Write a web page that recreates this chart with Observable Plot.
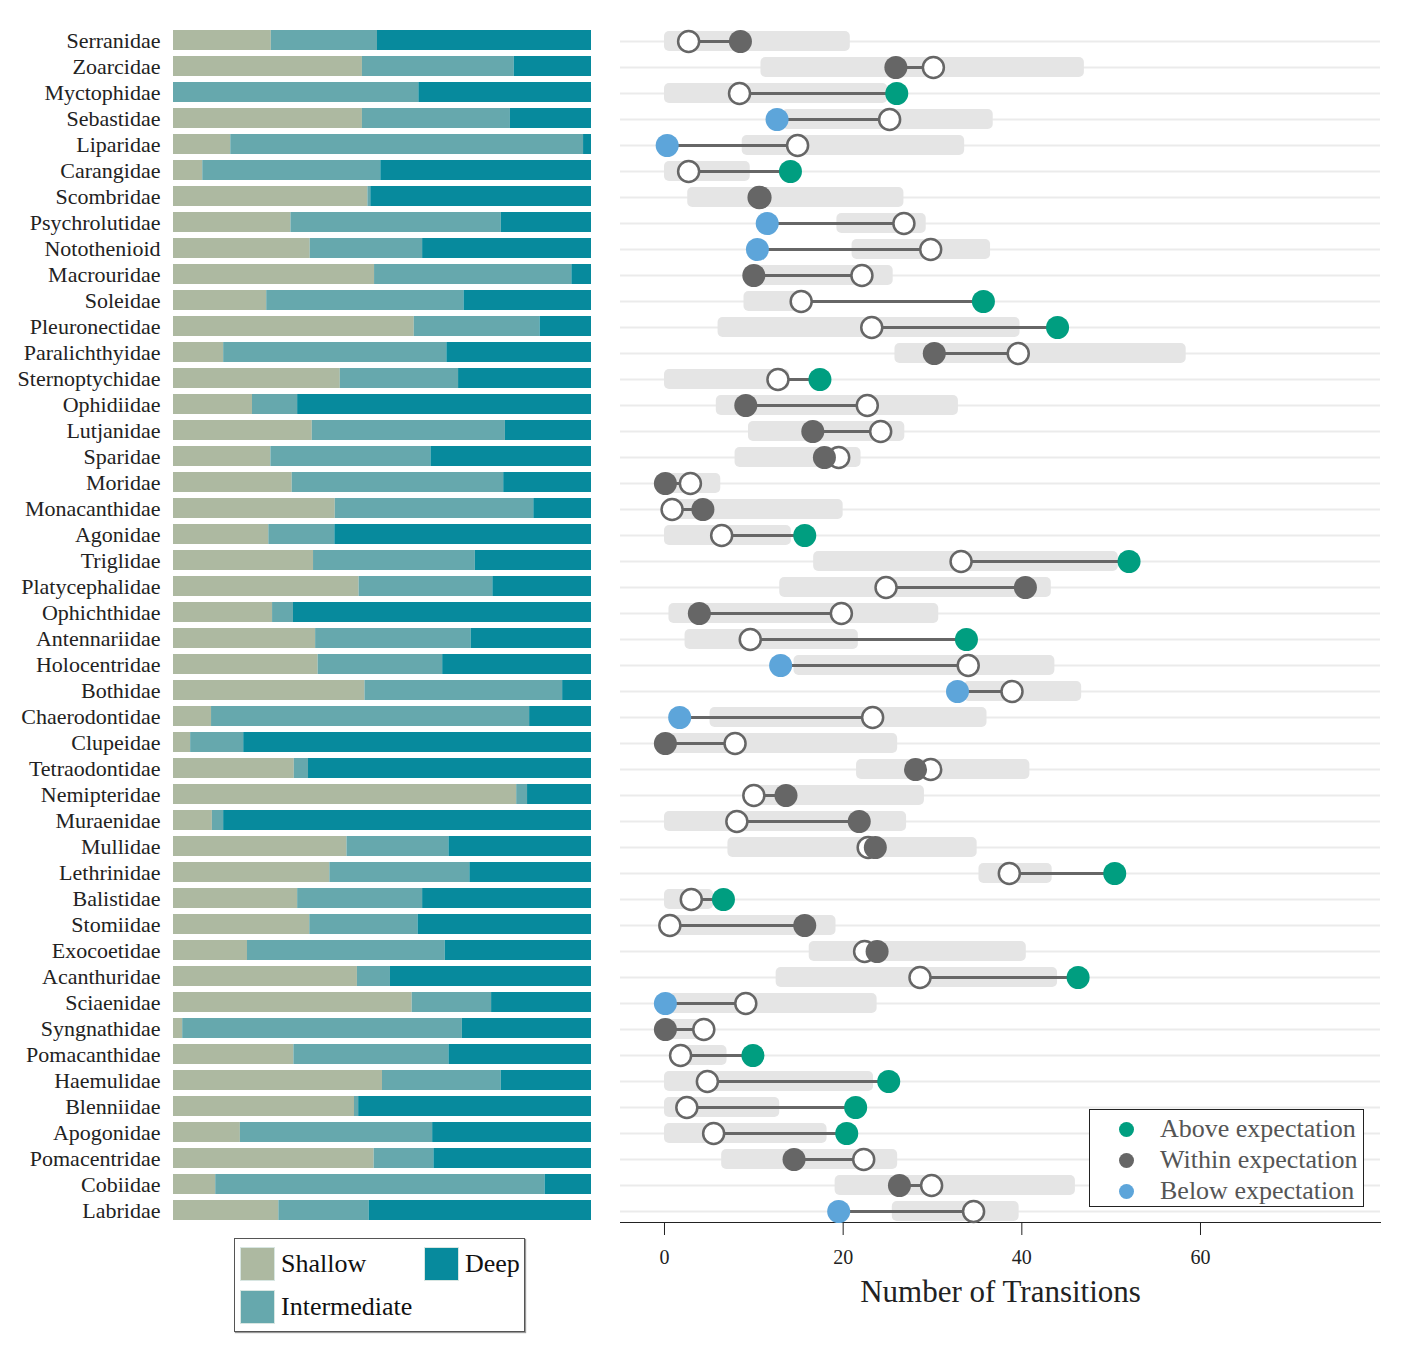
<!DOCTYPE html>
<html>
<head>
<meta charset="utf-8">
<script src="https://cdn.jsdelivr.net/npm/d3@7"></script>
<script src="https://cdn.jsdelivr.net/npm/@observablehq/plot@0.6"></script>
<style>
  html, body { margin: 0; padding: 0; background: #fff; }
  #root { position: relative; width: 1408px; height: 1360px; font-family: "Liberation Serif", "Times New Roman", serif; }
  #left, #right { position: absolute; top: 0; }
  #left { left: 0; }
  #right { left: 600px; }
  .legend { position: absolute; background: #fff; box-sizing: border-box; }
  #depthLegend { left: 234px; top: 1238px; width: 291px; height: 94px; border: 1.5px solid #555; box-shadow: 1px 1px 1px #999; }
  #statusLegend { left: 1089px; top: 1109px; width: 275px; height: 98px; border: 1.5px solid #222; }
  .item { position: absolute; display: flex; align-items: center; font-size: 26px; white-space: nowrap; }
  .sw { width: 35px; height: 34px; box-sizing: border-box; margin-right: 6px; }
  .dotk { width: 15px; height: 15px; border-radius: 50%; margin-right: 26px; }
</style>
</head>
<body>
<div id="root">
  <div id="left"></div>
  <div id="right"></div>
  <div id="depthLegend" class="legend"></div>
  <div id="statusLegend" class="legend"></div>
</div>
<script>
// ---------- DATA ----------
const families = ["Serranidae","Zoarcidae","Myctophidae","Sebastidae","Liparidae","Carangidae","Scombridae","Psychrolutidae","Notothenioid","Macrouridae","Soleidae","Pleuronectidae","Paralichthyidae","Sternoptychidae","Ophidiidae","Lutjanidae","Sparidae","Moridae","Monacanthidae","Agonidae","Triglidae","Platycephalidae","Ophichthidae","Antennariidae","Holocentridae","Bothidae","Chaerodontidae","Clupeidae","Tetraodontidae","Nemipteridae","Muraenidae","Mullidae","Lethrinidae","Balistidae","Stomiidae","Exocoetidae","Acanthuridae","Sciaenidae","Syngnathidae","Pomacanthidae","Haemulidae","Blenniidae","Apogonidae","Pomacentridae","Cobiidae","Labridae"];

// depth proportions (left panel)
const shallow      = [0.234,0.452,0.000,0.452,0.137,0.070,0.465,0.281,0.327,0.481,0.223,0.576,0.120,0.399,0.189,0.332,0.233,0.284,0.387,0.228,0.335,0.444,0.237,0.340,0.346,0.458,0.091,0.041,0.289,0.821,0.093,0.415,0.374,0.297,0.326,0.177,0.440,0.571,0.022,0.288,0.500,0.433,0.160,0.480,0.101,0.252];
const intermediate = [0.254,0.363,0.587,0.354,0.844,0.426,0.007,0.503,0.269,0.472,0.472,0.301,0.534,0.283,0.108,0.462,0.383,0.506,0.475,0.158,0.387,0.320,0.050,0.372,0.298,0.473,0.761,0.127,0.034,0.026,0.027,0.244,0.335,0.299,0.259,0.473,0.079,0.190,0.669,0.371,0.284,0.010,0.460,0.143,0.788,0.216];
const deep         = [0.512,0.185,0.413,0.194,0.019,0.504,0.528,0.216,0.404,0.047,0.305,0.123,0.346,0.318,0.703,0.206,0.384,0.210,0.138,0.614,0.278,0.236,0.713,0.288,0.356,0.069,0.148,0.832,0.677,0.153,0.880,0.341,0.291,0.404,0.415,0.350,0.481,0.239,0.309,0.341,0.216,0.557,0.380,0.377,0.111,0.532];

// transitions (right panel)
const rangeLow  = [0,10.8,0,13.2,8.7,0,2.6,19.3,21.0,9.8,8.9,6.0,25.8,0,5.8,9.4,7.9,0,0.3,0,16.7,12.9,0.5,2.3,14.5,33.5,5.1,0,21.5,9.8,0,7.1,35.2,0,0,16.2,12.5,0.5,0,1.3,0,0,0,6.4,19.1,25.5];
const rangeHigh = [20.8,47.0,25.0,36.8,33.6,9.6,26.8,29.3,36.5,25.6,16.5,39.8,58.4,14.0,32.9,26.9,22.0,6.3,20.0,14.2,50.8,43.3,30.7,21.7,43.7,46.7,36.1,26.1,40.9,29.1,27.1,35.0,43.4,5.5,19.2,40.5,44.0,23.8,5.0,7.0,23.4,12.9,18.2,26.1,46.0,39.7];
const expected  = [2.7,30.1,8.4,25.2,14.9,2.7,10.6,26.8,29.8,22.1,15.3,23.2,39.6,12.7,22.7,24.2,19.5,2.9,0.85,6.4,33.2,24.8,19.8,9.6,34.0,38.9,23.3,7.9,29.8,10.0,8.1,22.8,38.6,3.0,0.6,22.4,28.6,9.1,4.4,1.8,4.8,2.5,5.5,22.3,29.9,34.6];
const observed  = [8.5,25.9,26.0,12.6,0.3,14.1,10.7,11.5,10.4,10.0,35.7,44.0,30.2,17.4,9.1,16.6,17.9,0.1,4.3,15.7,52.0,40.4,3.9,33.8,13.0,32.8,1.7,0.1,28.1,13.6,21.8,23.6,50.4,6.6,15.7,23.8,46.3,0.1,0.1,9.9,25.1,21.4,20.4,14.5,26.3,19.5];
const status    = ["W","W","A","B","B","A","W","B","B","W","A","A","W","A","W","W","W","W","W","A","A","W","W","A","B","B","B","W","W","W","W","W","A","A","W","W","A","B","W","A","A","A","A","W","W","B"];

const depthCats   = ["Shallow","Intermediate","Deep"];
const depthColors = ["#adb9a1","#66a8ad","#078a9d"];
const statusCodes  = ["A","W","B"];
const statusLabels = ["Above expectation","Within expectation","Below expectation"];
const statusColors = ["#009e80","#666666","#5da5da"];
const xTicks = [0,20,40,60];

// ---------- TABLES ----------
const depthRows = [];
families.forEach((f, i) => {
  [shallow[i], intermediate[i], deep[i]].forEach((v, k) => depthRows.push({family: f, depth: depthCats[k], value: v}));
});
const transRows = families.map((f, i) => ({
  family: f, lo: rangeLow[i], hi: rangeHigh[i], exp: expected[i], obs: observed[i],
  status: statusLabels[statusCodes.indexOf(status[i])]
}));

const fontFamily = '"Liberation Serif", "Times New Roman", serif';

// ---------- LEFT PANEL ----------
const left = Plot.plot({
  width: 600, height: 1360,
  marginLeft: 173, marginRight: 9, marginTop: 17, marginBottom: 126,
  style: {fontFamily, fontSize: "22px", color: "#222", background: "transparent", overflow: "visible"},
  x: {domain: [0, 1], axis: null},
  y: {domain: families, paddingInner: 0.23, paddingOuter: 0.5, tickSize: 0, tickPadding: 13, label: null},
  color: {domain: depthCats, range: depthColors},
  marks: [
    Plot.barX(depthRows, Plot.stackX({x: "value", y: "family", fill: "depth", order: depthCats}))
  ]
});
document.getElementById("left").appendChild(left);

// ---------- RIGHT PANEL ----------
const right = Plot.plot({
  width: 808, height: 1360,
  marginLeft: 20, marginRight: 28, marginTop: 29, marginBottom: 138,
  style: {fontFamily, fontSize: "20px", color: "#222", background: "transparent", overflow: "visible"},
  x: {domain: [-4.925, 80.15], ticks: xTicks, tickSize: 13, tickPadding: 14, line: true, label: null, nice: false},
  y: {domain: families, axis: null, paddingInner: 0.231, paddingOuter: 0.038},
  color: {domain: statusLabels, range: statusColors},
  marks: [
    Plot.ruleY(families, {stroke: "#ebebeb", strokeWidth: 2}),
    Plot.barX(transRows, {x1: "lo", x2: "hi", y: "family", fill: "#e5e5e5", rx: 5}),
    Plot.link(transRows, {x1: "exp", x2: "obs", y1: "family", y2: "family", stroke: "#666", strokeWidth: 3}),
    Plot.dot(transRows, {x: "exp", y: "family", r: 10.5, fill: "white", stroke: "#666", strokeWidth: 2.5}),
    Plot.dot(transRows, {x: "obs", y: "family", r: 11.5, fill: "status"}),
    Plot.text(["Number of Transitions"], {text: d => d, frameAnchor: "bottom", dy: 79, fontSize: 31, fill: "#222"})
  ]
});
document.getElementById("right").appendChild(right);

// ---------- LEGENDS ----------
const dl = document.getElementById("depthLegend");
const dPos = {Shallow: [5, 8], Deep: [189, 8], Intermediate: [5, 51]};
depthCats.forEach((c, k) => {
  const it = document.createElement("div");
  it.className = "item";
  it.style.left = dPos[c][0] + "px";
  it.style.top = dPos[c][1] + "px";
  it.innerHTML = `<div class="sw" style="background:${depthColors[k]};border:1px solid #d8e6e2"></div><span style="color:#111">${c}</span>`;
  dl.appendChild(it);
});
const sl = document.getElementById("statusLegend");
statusLabels.forEach((c, k) => {
  const it = document.createElement("div");
  it.className = "item";
  it.style.left = "29px";
  it.style.top = (4 + k * 31) + "px";
  it.style.height = "30px";
  it.innerHTML = `<div class="dotk" style="background:${statusColors[k]}"></div><span style="color:#555">${c}</span>`;
  sl.appendChild(it);
});
</script>
</body>
</html>
